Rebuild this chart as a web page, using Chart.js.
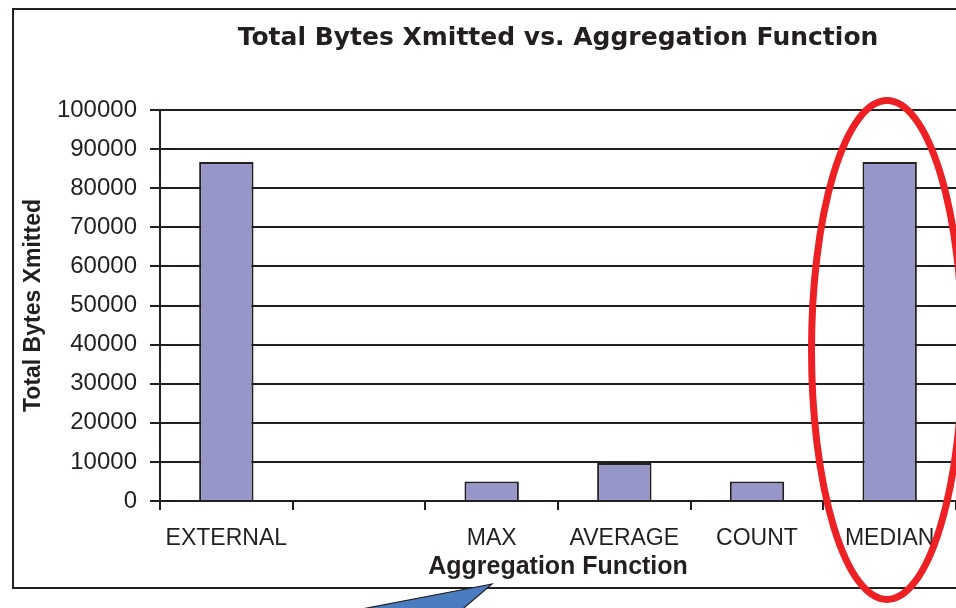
<!DOCTYPE html>
<html>
<head>
<meta charset="utf-8">
<script src="https://cdn.jsdelivr.net/npm/chart.js@4"></script>
<style>
  html, body { margin: 0; padding: 0; background: #fff; overflow: hidden; }
  canvas { display: block; }
</style>
</head>
<body>
<canvas id="barChart" width="956" height="608"></canvas>
<script>
const categories = ['EXTERNAL', '', 'MAX', 'AVERAGE', 'COUNT', 'MEDIAN'];
const bytesXmitted = [86700, null, 5000, 9700, 5000, 86700];
const yTicks = [0, 10000, 20000, 30000, 40000, 50000, 60000, 70000, 80000, 90000, 100000];

const ink = '#231f20';

// red ellipse, callout wedge and outer frame drawn over the chart
const annotations = {
    id: 'annotations',
    afterDraw(chart) {
        const ctx = chart.ctx;
        ctx.save();

        ctx.strokeStyle = ink;
        ctx.lineWidth = 2;
        ctx.strokeRect(13, 9, 980, 579);

        ctx.beginPath();
        ctx.moveTo(492, 584);
        ctx.lineTo(341, 613);
        ctx.lineTo(458, 613);
        ctx.closePath();
        ctx.fillStyle = '#4a7cbf';
        ctx.fill();
        ctx.lineWidth = 1.2;
        ctx.strokeStyle = ink;
        ctx.stroke();

        ctx.beginPath();
        ctx.ellipse(887, 350, 75.5, 249.5, 0, 0, Math.PI * 2);
        ctx.strokeStyle = '#ed2024';
        ctx.lineWidth = 7;
        ctx.stroke();

        ctx.restore();
    }
};

const chart = new Chart(document.getElementById('barChart').getContext('2d'), {
    type: 'bar',
    data: {
        labels: categories,
        datasets: [{
            label: 'Total Bytes Xmitted',
            data: bytesXmitted,
            backgroundColor: '#9696c8',
            borderColor: ink,
            borderWidth: 2,
            categoryPercentage: 1,
            barPercentage: 0.41
        }]
    },
    options: {
        responsive: false,
        animation: false,
        layout: { padding: 0 },
        plugins: {
            legend: { display: false },
            tooltip: { enabled: false },
            title: {
                display: true,
                text: 'Total Bytes Xmitted vs. Aggregation Function',
                fullSize: false,
                color: ink,
                font: { family: 'DejaVu Sans', size: 25, weight: 'bold' },
                padding: { top: 23, bottom: 57 }
            }
        },
        scales: {
            x: {
                grid: {
                    display: true,
                    drawOnChartArea: false,
                    drawTicks: true,
                    offset: true,
                    tickLength: 9,
                    color: ink,
                    lineWidth: 2
                },
                border: { display: true, color: ink, width: 2 },
                ticks: {
                    color: ink,
                    padding: 15,
                    maxRotation: 0,
                    autoSkip: false,
                    font: { family: 'Liberation Sans', size: 23 }
                },
                title: {
                    display: true,
                    text: 'Aggregation Function',
                    color: ink,
                    font: { family: 'Liberation Sans', size: 25, weight: 'bold' },
                    padding: { top: 0, bottom: 26 }
                },
                afterFit(scale) { scale.height = 107; }
            },
            y: {
                min: 0,
                max: 100000,
                grid: {
                    color: ink,
                    lineWidth: 2,
                    tickLength: 10
                },
                border: { display: true, color: ink, width: 2 },
                afterBuildTicks(scale) {
                    scale.ticks = yTicks.map(v => ({ value: v }));
                },
                ticks: {
                    color: ink,
                    padding: 13,
                    font: { family: 'Liberation Sans', size: 24 },
                    callback: value => String(value)
                },
                title: {
                    display: true,
                    text: 'Total Bytes Xmitted',
                    color: ink,
                    font: { family: 'Liberation Sans', size: 23, weight: 'bold' },
                    padding: { top: 20, bottom: 0 }
                },
                afterFit(scale) { scale.width = 160; }
            }
        }
    },
    plugins: [annotations]
});
</script>
</body>
</html>
